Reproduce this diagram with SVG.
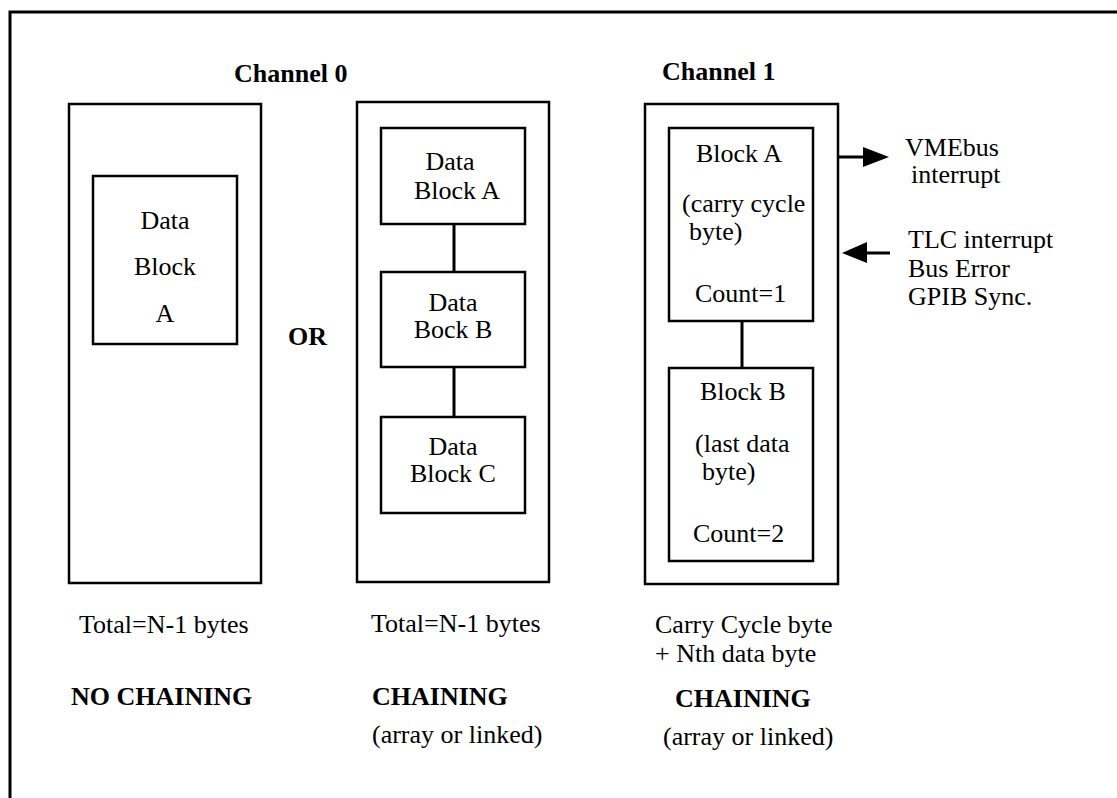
<svg xmlns="http://www.w3.org/2000/svg" width="1117" height="798" viewBox="0 0 1117 798">
<style>
.t{font-family:'Liberation Serif','DejaVu Serif','Times New Roman',Times,serif;font-size:26px;fill:#000}
.b{font-weight:bold}
.box{fill:none;stroke:#000;stroke-width:2.5}
.ln{fill:none;stroke:#000;stroke-width:3}
</style>
<rect width="1117" height="798" fill="#fff"/>
<path d="M10,798 V12 H1117" fill="none" stroke="#000" stroke-width="3"/>
<text class="t b" x="234" y="82">Channel 0</text>
<text class="t b" x="662" y="80">Channel 1</text>
<text class="t b" x="288" y="345">OR</text>

<g id="ch0-nochain">
<rect class="box" x="69" y="104" width="192" height="479"/>
</g>
<g id="ch0-blockA">
<rect class="box" x="93" y="176" width="144" height="168"/>
<text class="t" x="165" y="229" text-anchor="middle">Data</text>
<text class="t" x="165" y="275" text-anchor="middle">Block</text>
<text class="t" x="165" y="322" text-anchor="middle">A</text>
</g>

<g id="ch0-chain">
<rect class="box" x="357" y="102" width="192" height="480"/>
</g>
<g id="chain-A">
<rect class="box" x="381" y="128" width="144" height="96"/>
<text class="t" x="450" y="170" text-anchor="middle">Data</text>
<text class="t" x="457" y="199" text-anchor="middle">Block A</text>
</g>
<g id="chain-B">
<rect class="box" x="381" y="272" width="144" height="95"/>
<text class="t" x="453" y="311" text-anchor="middle">Data</text>
<text class="t" x="453" y="338" text-anchor="middle">Bock B</text>
</g>
<g id="chain-C">
<rect class="box" x="381" y="417" width="144" height="96"/>
<text class="t" x="453" y="455" text-anchor="middle">Data</text>
<text class="t" x="453" y="482" text-anchor="middle">Block C</text>
</g>

<g id="ch1">
<rect class="box" x="645" y="104" width="193" height="480"/>
</g>
<g id="ch1-blockA">
<rect class="box" x="669" y="128" width="144" height="193"/>
<text class="t" x="696" y="162">Block A</text>
<text class="t" x="682" y="212">(carry cycle</text>
<text class="t" x="689" y="240"> byte)</text>
<text class="t" x="695" y="302">Count=1</text>
</g>
<g id="ch1-blockB">
<rect class="box" x="669" y="368" width="144" height="193"/>
<text class="t" x="700" y="400">Block B</text>
<text class="t" x="695" y="452">(last data</text>
<text class="t" x="702" y="480"> byte)</text>
<text class="t" x="693" y="542">Count=2</text>
</g>

<g id="connectors">
<line class="ln" x1="454" y1="224" x2="454" y2="272"/>
<line class="ln" x1="454" y1="367" x2="454" y2="417"/>
<line class="ln" x1="742" y1="321" x2="742" y2="368"/>
<line class="ln" x1="838" y1="157" x2="864" y2="157"/>
<polygon points="863,147 889,157 863,167" fill="#000"/>
<line class="ln" x1="866" y1="253" x2="890" y2="253"/>
<polygon points="867,242 842,253 867,263" fill="#000"/>
</g>

<g id="labels">
<text class="t" x="905" y="156">VMEbus</text>
<text class="t" x="911" y="183">interrupt</text>
<text class="t" x="908" y="248">TLC interrupt</text>
<text class="t" x="908" y="277">Bus Error</text>
<text class="t" x="908" y="305">GPIB Sync.</text>

<text class="t" x="79" y="633">Total=N-1 bytes</text>
<text class="t b" x="71" y="705">NO CHAINING</text>

<text class="t" x="371" y="632">Total=N-1 bytes</text>
<text class="t b" x="372" y="705">CHAINING</text>
<text class="t" x="372" y="743">(array or linked)</text>

<text class="t" x="655" y="633">Carry Cycle byte</text>
<text class="t" x="655" y="662">+ Nth data byte</text>
<text class="t b" x="675" y="707">CHAINING</text>
<text class="t" x="663" y="745">(array or linked)</text>
</g>
</svg>
